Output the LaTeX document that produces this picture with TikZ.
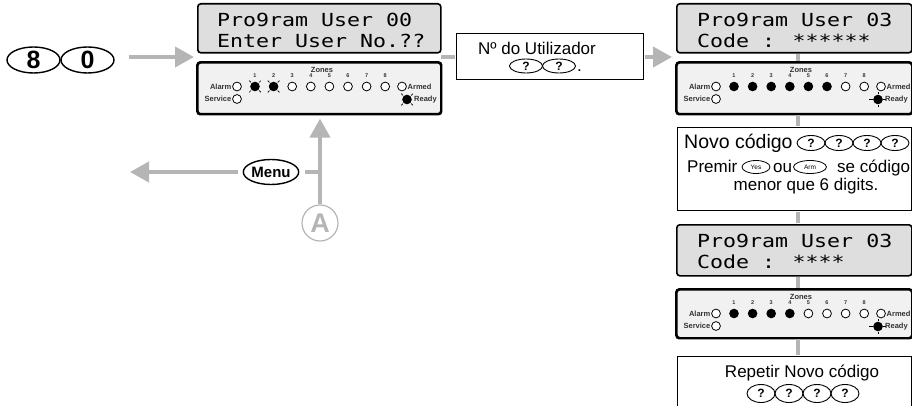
\documentclass[tikz,border=0pt]{standalone}
\usepackage{fontspec}
\setmainfont{Liberation Sans}
\newfontfamily\lcdfont[FakeStretch=1.2]{DejaVu Sans Mono}
\usetikzlibrary{arrows.meta,shapes.geometric}
\definecolor{arrowgray}{HTML}{B5B5B5}
\definecolor{lcdgray}{HTML}{DEDEDE}
\definecolor{panelgray}{HTML}{F1F1F1}
\definecolor{lbltxt}{HTML}{333333}

\newcommand\myled[3]{%
  \ifcase#3\relax
    \draw[line width=0.8pt,fill=white] (#1,#2) circle[radius=4.4pt];%
  \or
    \fill (#1,#2) circle[radius=4.8pt];%
    \draw[line width=0.7pt,shift={(#1,#2)}] (45:5.8pt)--(45:8.3pt) (135:5.8pt)--(135:8.3pt) (225:5.8pt)--(225:8.3pt) (315:5.8pt)--(315:8.3pt);%
  \or
    \fill (#1,#2) circle[radius=4.8pt];%
  \or
    \fill (#1,#2) circle[radius=4.8pt];%
    \draw[line width=0.55pt,shift={(#1,#2)}] (0:5.3pt)--(0:7.5pt) (90:5.3pt)--(90:7.3pt) (180:5.3pt)--(180:9pt) (270:5.3pt)--(270:7.3pt);%
  \fi}

% name, x, y, width, height, zone states, ready state, ready x
\newcommand\ledpanel[8]{%
  \node[panelbox, minimum width=#4pt, minimum height=#5pt, anchor=north west] (#1) at (#2,#3) {};
  \begin{scope}[shift={(#2,#3)}]
    \node[lbl, anchor=east] (#1-alarm) at (34.5,24.5) {Alarm};
    \myled{40}{24.5}{0}
    \node[lbl, anchor=east] (#1-service) at (34.5,37) {Service};
    \myled{40}{37}{0}
    \node[lbl] (#1-zones) at (125,7.5) {Zones};
    \foreach \s [count=\i] in {#6} {
      \pgfmathsetmacro\xx{58+18.6*(\i-1)}
      \node[numlbl] (#1-n\i) at (\xx,13.8) {\i};
      \myled{\xx}{24.5}{\s}
    }
    \myled{205}{24.5}{0}
    \node[lbl, anchor=west] (#1-armed) at (210.5,24.5) {Armed};
    \myled{#8}{37.5}{#7}
    \node[lbl, anchor=west] (#1-ready) at (#8+7,37.5) {Ready};
  \end{scope}
  \draw[line width=1.6pt, rounded corners=3pt] (#1.north west) rectangle (#1.south east);
}

\begin{document}
\begin{tikzpicture}[x=1pt,y=-1pt,
  gline/.style={draw=arrowgray, line width=4pt},
  garrow/.style={gline, -{Triangle[length=19pt,width=20pt]}},
  vline/.style={draw=arrowgray, line width=3.5pt},
  lcd/.style={draw=black, line width=1.6pt, fill=lcdgray, rounded corners=3pt, inner sep=0pt},
  panelbox/.style={draw=black, line width=1.6pt, fill=panelgray, rounded corners=3pt, inner sep=0pt},
  tbox/.style={draw=black, line width=1.2pt, fill=white, inner sep=0pt},
  lcdtxt/.style={font=\lcdfont\fontsize{18}{20}\selectfont, inner sep=0pt},
  txt/.style={font=\fontsize{17}{20}\selectfont, inner sep=0pt},
  lbl/.style={font=\bfseries\fontsize{7.5}{8}\selectfont, text=lbltxt, inner sep=0pt},
  numlbl/.style={font=\bfseries\fontsize{5.5}{6}\selectfont, text=lbltxt, inner sep=0pt},
  keybig/.style={ellipse, draw=black, line width=1.4pt, minimum width=53pt, minimum height=26pt, inner sep=0pt, font=\bfseries\fontsize{25}{25}\selectfont},
  keysm/.style={ellipse, draw=black, line width=0.9pt, minimum width=28pt, minimum height=15pt, inner sep=0pt, font=\bfseries\fontsize{12}{12}\selectfont},
  keytiny/.style={ellipse, draw=black, line width=0.8pt, minimum height=13pt, inner sep=0pt, font=\fontsize{6.5}{7}\selectfont},
]
\useasboundingbox (0,0) rectangle (912,406);
\clip (0,0) rectangle (912,406);

% keys 8 0
\node[keybig] (k8) at (33.5,60) {8};
\node[keybig] (k0) at (87.5,60) {0};

% left column
\node[lcd, minimum width=243pt, minimum height=49pt, anchor=north west] (lcd1) at (197,3) {};
\node[lcdtxt, anchor=base west] (lcd1-a) at (217,27) {Pro9ram User 00};
\node[lcdtxt, anchor=base west] (lcd1-b) at (217,48) {Enter User No.??};
\ledpanel{panel1}{197}{62}{243}{51}{1,1,0,0,0,0,0,0}{1}{210}

% user no box
\node[tbox, minimum width=187pt, minimum height=46pt, anchor=north west] (box1) at (456,33) {};
\node[txt, anchor=base] (box1-t) at (537,55) {Nº do Utilizador};
\node[keysm, minimum width=33pt, minimum height=14pt] (box1-k1) at (526,66) {?};
\node[keysm, minimum width=33pt, minimum height=14pt] (box1-k2) at (559,66) {?};
\node[txt, anchor=base west] (box1-dot) at (577,72) {.};

% right column
\node[lcd, minimum width=235pt, minimum height=49pt, anchor=north west] (lcd2) at (676,3) {};
\node[lcdtxt, anchor=base west] (lcd2-a) at (697,27) {Pro9ram User 03};
\node[lcdtxt, anchor=base west] (lcd2-b) at (697,48) {Code : ******};
\ledpanel{panel2}{676}{62}{235}{51}{2,2,2,2,2,2,0,0}{3}{202}

\node[tbox, minimum width=234pt, minimum height=83pt, anchor=north west] (box2) at (677,127) {};
\node[txt, anchor=base west, font=\fontsize{19.5}{20}\selectfont] (box2-a) at (684,148.5) {Novo código};
\node[keysm] (box2-k1) at (811,143) {?};
\node[keysm] (box2-k2) at (839,143) {?};
\node[keysm] (box2-k3) at (867,143) {?};
\node[keysm] (box2-k4) at (895,143) {?};
\node[txt, anchor=base west] (box2-b) at (687,172) {Premir};
\node[keytiny, minimum width=28pt] (kyes) at (756,167) {Yes};
\node[txt, anchor=base west] (box2-ou) at (773,172) {ou};
\node[keytiny, minimum width=33pt] (karm) at (810,167) {Arm};
\node[txt, anchor=base west] (box2-c) at (837,172) {se código};
\node[txt, anchor=base] (box2-d) at (806,190) {menor que 6 digits.};

\node[lcd, minimum width=235pt, minimum height=51pt, anchor=north west] (lcd3) at (676,224) {};
\node[lcdtxt, anchor=base west] (lcd3-a) at (697,247) {Pro9ram User 03};
\node[lcdtxt, anchor=base west] (lcd3-b) at (697,268) {Code : ****};
\ledpanel{panel3}{676}{289}{235}{48}{2,2,2,2,0,0,0,0}{3}{202}

\node[tbox, minimum width=234pt, minimum height=70pt, anchor=north west] (box3) at (677,356) {};
\node[txt, anchor=base] (box3-a) at (802,377) {Repetir Novo código};
\node[keysm, minimum height=18pt] (box3-k1) at (761,393.5) {?};
\node[keysm, minimum height=18pt] (box3-k2) at (789,393.5) {?};
\node[keysm, minimum height=18pt] (box3-k3) at (817,393.5) {?};
\node[keysm, minimum height=18pt] (box3-k4) at (845,393.5) {?};

% menu and A
\node[ellipse, draw=black, line width=1.4pt, minimum width=52pt, minimum height=25pt, inner sep=0pt, font=\bfseries\fontsize{15}{15}\selectfont] (menu) at (271,172) {Menu};
\node[circle, draw=arrowgray, line width=1.2pt, minimum size=36pt, inner sep=0pt, text=arrowgray, font=\bfseries\fontsize{27}{27}\selectfont] (A) at (320,223) {A};

\coordinate (in1) at (194,57);
\coordinate (in2) at (672,57);
\coordinate (out1) at (441,57);
\coordinate (join) at (320,172);
\coordinate (leftend) at (130,172);
\coordinate (cx) at (798,0);

% connectors
\draw[garrow, shorten <=14pt] (k0.east |- in1) -- (in1);
\draw[gline, shorten >=0.6pt] (out1) -- (box1.west |- out1);
\draw[garrow, shorten <=0.6pt] (box1.east |- in2) -- (in2);
\draw[garrow, shorten >=4pt] (A.north) -- (panel1.south -| A.north);
\draw[gline, shorten <=6pt] (menu.east) -- (join);
\draw[garrow, shorten <=5pt] (menu.west) -- (leftend);

\draw[vline, shorten <=0.8pt, shorten >=0.8pt] (lcd2.south -| cx) -- (panel2.north -| cx);
\draw[vline, shorten <=0.8pt, shorten >=0.6pt] (panel2.south -| cx) -- (box2.north -| cx);
\draw[vline, shorten <=0.6pt, shorten >=0.8pt] (box2.south -| cx) -- (lcd3.north -| cx);
\draw[vline, shorten <=0.8pt, shorten >=0.8pt] (lcd3.south -| cx) -- (panel3.north -| cx);
\draw[vline, shorten <=0.8pt, shorten >=0.6pt] (panel3.south -| cx) -- (box3.north -| cx);
\end{tikzpicture}
\end{document}
